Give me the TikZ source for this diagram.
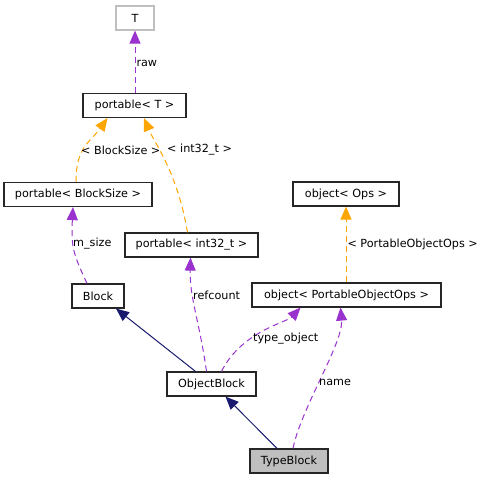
\documentclass[tikz,border=0pt]{standalone}
\usepackage{fontspec}
\setmainfont{DejaVu Sans}
\usetikzlibrary{arrows.meta,calc}
\definecolor{dpurple}{HTML}{9A32CD}
\definecolor{dorange}{HTML}{FFA500}
\definecolor{dnavy}{HTML}{191970}
\definecolor{dgray}{HTML}{BFBFBF}
\begin{document}
\begin{tikzpicture}[x=1pt,y=-1pt,
  font=\fontsize{11.2}{13}\selectfont,
  cls/.style={draw=black!85,line width=1.2pt,fill=white,rectangle,minimum height=24pt,inner sep=0pt},
  usage/.style={draw=dpurple,line width=1pt,dash pattern=on 6pt off 4pt,-{Triangle[length=13pt,width=11pt,fill=dpurple]}},
  tmpl/.style={draw=dorange,line width=1pt,dash pattern=on 6pt off 4pt,-{Triangle[length=13pt,width=11pt,fill=dorange]}},
  inh/.style={draw=dnavy,line width=1pt,-{Triangle[length=13pt,width=11pt,fill=dnavy]}},
  lbl/.style={inner sep=0pt,anchor=west}]
\useasboundingbox (0,0) rectangle (485,480);
\node[cls,draw=dgray,minimum width=38pt] (T) at (135,18) {T};
\node[cls,minimum width=103pt] (pT) at (134.5,105.5) {portable< T >};
\node[cls,minimum width=148pt] (pBS) at (78,194.5) {portable< BlockSize >};
\node[cls,minimum width=133pt] (pI) at (191.5,245) {portable< int32\_t >};
\node[cls,minimum width=52pt] (Block) at (98,296) {Block};
\node[cls,minimum width=89pt] (OB) at (211.5,384) {ObjectBlock};
\node[cls,fill=dgray,minimum width=78pt] (TB) at (289,461) {TypeBlock};
\node[cls,minimum width=106pt] (oOps) at (346,194) {object< Ops >};
\node[cls,minimum width=189pt] (oPOO) at (346.5,295) {object< PortableObjectOps >};
% connectors
\draw[usage] (pT.north -| T.south) -- (T.south) node[lbl,pos=0.48,xshift=1pt] {raw};
\draw[tmpl] ($(pBS.north)+(-2,0)$) .. controls ($(pBS.north)+(-2,-35)$) and ($(pT.south)+(-45,25)$) .. ($(pT.south)+(-27,0)$);
\node[lbl] (lbs) at (81,150) {< BlockSize >};
\draw[tmpl] ($(pI.north)+(-4,0)$) .. controls ($(pI.north)+(-14,-60)$) and ($(pT.south)+(20,25)$) .. ($(pT.south)+(9.5,0)$);
\node[lbl] (lint) at (167,150) {< int32\_t >};
\draw[usage] ($(Block.north)+(-11,0)$) .. controls ($(Block.north)+(-25,-30)$) and ($(pBS.south)+(-7,40)$) .. ($(pBS.south)+(-5,0)$);
\node[lbl] (lms) at (73,244) {m\_size};
\draw[usage] ($(OB.north)+(-5,0)$) .. controls ($(OB.north)+(-12,-50)$) and ($(pI.south)+(-2,40)$) .. ($(pI.south)+(-1,0)$);
\node[lbl] (lrc) at (193,295) {refcount};
\draw[usage] ($(OB.north)+(10,0)$) .. controls ($(OB.north)+(30,-40)$) and ($(oPOO.south)+(-60,15)$) .. ($(oPOO.south)+(-46,0)$);
\node[lbl] (lto) at (253,339) {type\_object};
\draw[usage] ($(TB.north)+(4,0)$) .. controls ($(TB.north)+(12,-40)$) and ($(oPOO.south)+(-3,35)$) .. ($(oPOO.south)+(-6,0)$);
\node[lbl] (lnm) at (319,382) {name};
\draw[tmpl] (oPOO.north -| oOps.south) -- (oOps.south) node[lbl,pos=0.5,xshift=1pt] {< PortableObjectOps >};
\draw[inh] ($(OB.north)+(-16,0)$) -- ($(Block.south)+(18,0)$);
\draw[inh] ($(TB.north)+(-12,0)$) -- ($(OB.south)+(14,0)$);
\end{tikzpicture}
\end{document}
